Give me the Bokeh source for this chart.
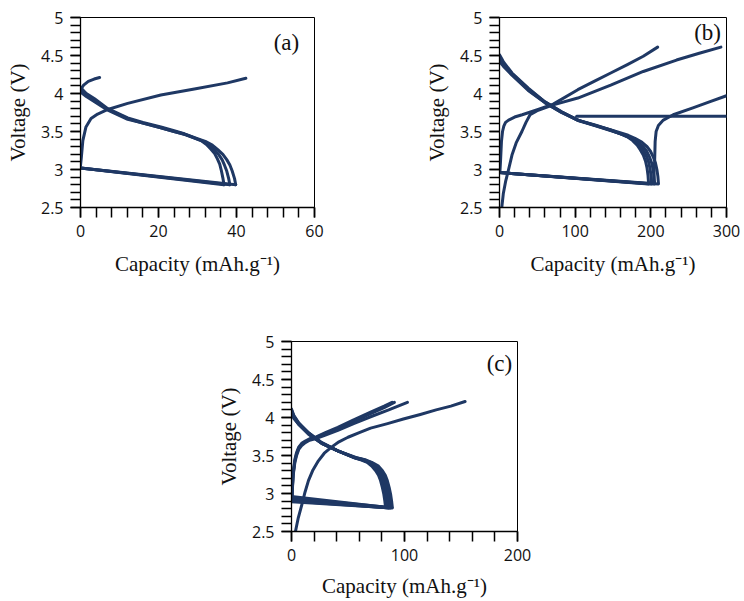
from bokeh.plotting import figure
from bokeh.layouts import column, row
from bokeh.models import Spacer, SingleIntervalTicker, Label, Range1d, CustomJSTickFormatter
from bokeh.embed import file_html
from bokeh.resources import INLINE

# ---------------- data: panel (a) ----------------
a_ch1_x = [0, 0.2, 0.6, 1.4, 2.7, 4.4, 7.0, 12.1, 20.6, 29.2, 37.7, 42.4]
a_ch1_v = [3.05, 3.15, 3.38, 3.56, 3.67, 3.73, 3.79, 3.87, 3.98, 4.06, 4.14, 4.20]
a_ch2_x = [0, 0.8, 2.0, 3.5, 4.9]
a_ch2_v = [4.05, 4.11, 4.16, 4.19, 4.21]
a_d1_x = [0, 1.5, 3.6, 7.0, 12.1, 16.0, 20.6, 24.0, 26.6, 29.0, 30.9, 32.3, 33.4, 34.4, 35.1, 35.7, 36.1, 36.5, 36.8]
a_d1_v = [4.08, 4.00, 3.93, 3.80, 3.68, 3.62, 3.56, 3.51, 3.47, 3.42, 3.38, 3.33, 3.27, 3.21, 3.14, 3.07, 2.99, 2.89, 2.80]
a_d2_x = [0, 1.5, 3.6, 7.0, 12.1, 16.0, 20.6, 24.0, 26.8, 29.4, 31.5, 33.1, 34.3, 35.4, 36.3, 36.9, 37.5, 38.0, 38.3]
a_d2_v = [4.05, 3.98, 3.91, 3.79, 3.67, 3.61, 3.55, 3.50, 3.46, 3.41, 3.37, 3.32, 3.26, 3.20, 3.13, 3.06, 2.98, 2.88, 2.80]
a_d3_x = [0, 1.5, 3.6, 7.0, 12.1, 16.0, 20.6, 24.0, 27.0, 29.8, 32.0, 33.8, 35.2, 36.5, 37.5, 38.3, 38.9, 39.5, 39.8]
a_d3_v = [4.02, 3.96, 3.89, 3.78, 3.66, 3.61, 3.55, 3.50, 3.46, 3.41, 3.37, 3.32, 3.26, 3.20, 3.13, 3.06, 2.98, 2.88, 2.80]
a_rest_start_v = [3.02, 3.02, 3.02]
a_rest_end_x = [36.8, 38.3, 39.8]
a_rest_end_v = [2.80, 2.80, 2.80]

# ---------------- data: panel (b) ----------------
b_d1_x = [0, 5, 16.5, 38, 60, 82, 103, 125, 147, 160, 169, 176, 182, 186, 190, 193, 195, 196.3, 197]
b_d1_v = [4.51, 4.42, 4.27, 4.07, 3.89, 3.76, 3.65, 3.59, 3.52, 3.47, 3.43, 3.38, 3.32, 3.26, 3.19, 3.11, 3.02, 2.92, 2.82]
b_d2_x = [0, 5, 16.5, 38, 60, 82, 104, 126, 149, 163, 172, 180, 186, 190, 194, 197, 199, 200.3, 201]
b_d2_v = [4.48, 4.40, 4.26, 4.06, 3.89, 3.76, 3.65, 3.58, 3.51, 3.46, 3.42, 3.37, 3.31, 3.25, 3.18, 3.10, 3.01, 2.91, 2.82]
b_d3_x = [0, 5, 16.5, 38, 60, 82, 105, 128, 151, 166, 175, 183, 190, 194.5, 198, 201, 203, 204.3, 205]
b_d3_v = [4.45, 4.38, 4.25, 4.05, 3.88, 3.75, 3.64, 3.57, 3.50, 3.45, 3.41, 3.36, 3.30, 3.24, 3.17, 3.09, 3.00, 2.91, 2.82]
b_d4_x = [0, 5, 16.5, 38, 60, 82, 106, 130, 154, 170, 179, 188, 195, 199.5, 203, 206, 208, 209.3, 210]
b_d4_v = [4.42, 4.36, 4.24, 4.04, 3.88, 3.75, 3.64, 3.57, 3.50, 3.45, 3.41, 3.36, 3.30, 3.24, 3.17, 3.09, 3.00, 2.91, 2.82]
b_flat_x = [102, 300]
b_flat_v = [3.70, 3.70]
b_chA_x = [0.5, 1.3, 2.6, 4, 5.7, 8, 12, 20, 30, 51, 71, 103.5, 125, 147, 169, 190, 209]
b_chA_v = [2.96, 3.10, 3.37, 3.50, 3.57, 3.62, 3.65, 3.69, 3.72, 3.79, 3.86, 4.05, 4.16, 4.27, 4.38, 4.49, 4.61]
b_chB_x = [3, 5, 8, 12, 16.5, 22, 29.6, 35, 40.4, 51, 71, 103.5, 147, 190, 234, 264, 292.6]
b_chB_v = [2.50, 2.68, 2.84, 3.00, 3.19, 3.35, 3.50, 3.62, 3.72, 3.78, 3.85, 3.94, 4.11, 4.29, 4.44, 4.53, 4.61]
b_chC_x = [203.5, 205, 205.7, 207, 210, 216.5, 229.6, 255.6, 277.4, 300]
b_chC_v = [2.82, 3.10, 3.37, 3.50, 3.58, 3.65, 3.72, 3.81, 3.89, 3.97]
b_rest_start_v = [2.96, 2.96, 2.96, 2.96]
b_rest_end_x = [197, 201, 205, 210]
b_rest_end_v = [2.81, 2.81, 2.81, 2.81]

# ---------------- data: panel (c) ----------------
c_d1_x = [0, 2, 6.4, 15, 26.7, 41, 55.7, 62, 67, 71, 74.5, 77, 78.8, 80.4, 81.7, 82.6, 83.2]
c_d1_v = [4.11, 4.03, 3.93, 3.80, 3.67, 3.56, 3.47, 3.44, 3.41, 3.36, 3.30, 3.24, 3.17, 3.08, 2.99, 2.90, 2.82]
c_d2_x = [0, 2, 6.4, 15, 26.7, 41, 56, 63, 68, 72.5, 76, 78.5, 80.3, 81.9, 83.2, 84.1, 84.7]
c_d2_v = [4.10, 4.02, 3.92, 3.80, 3.67, 3.56, 3.47, 3.44, 3.41, 3.36, 3.30, 3.24, 3.17, 3.08, 2.99, 2.90, 2.82]
c_d3_x = [0, 2, 6.4, 15, 26.7, 41, 56.5, 64, 69, 74, 77.5, 80, 81.8, 83.4, 84.7, 85.6, 86.2]
c_d3_v = [4.09, 4.01, 3.92, 3.79, 3.66, 3.56, 3.47, 3.44, 3.41, 3.36, 3.30, 3.24, 3.17, 3.08, 2.99, 2.90, 2.82]
c_d4_x = [0, 2, 6.4, 15, 26.7, 41, 57, 65, 70, 75.5, 79, 81.5, 83.3, 84.9, 86.2, 87.1, 87.7]
c_d4_v = [4.08, 4.00, 3.91, 3.79, 3.66, 3.56, 3.47, 3.44, 3.41, 3.36, 3.30, 3.24, 3.17, 3.08, 2.99, 2.90, 2.82]
c_d5_x = [0, 2, 6.4, 15, 26.7, 41, 57.5, 66, 71, 77, 80.5, 83, 84.8, 86.4, 87.7, 88.6, 89.2]
c_d5_v = [4.07, 3.99, 3.91, 3.78, 3.66, 3.56, 3.47, 3.44, 3.41, 3.36, 3.30, 3.24, 3.17, 3.08, 2.99, 2.90, 2.82]
c_rest_start_v = [2.96, 2.94, 2.92, 2.90, 2.89]
c_rest_end_x = [83.2, 84.7, 86.2, 87.7, 89.2]
c_rest_end_v = [2.82, 2.82, 2.81, 2.81, 2.81]
c_c1_x = [0.3, 0.8, 1.5, 3, 4.5, 6.4, 9, 12.2, 16, 20.9, 30, 41, 55, 70, 82, 89]
c_c1_v = [2.90, 3.10, 3.28, 3.45, 3.54, 3.61, 3.66, 3.69, 3.72, 3.74, 3.80, 3.87, 3.97, 4.07, 4.15, 4.20]
c_c2_x = [0.3, 0.8, 1.5, 3, 4.5, 6.4, 9, 12.2, 16, 20.9, 30, 41, 55, 70, 82, 91]
c_c2_v = [2.90, 3.08, 3.26, 3.43, 3.52, 3.60, 3.65, 3.68, 3.71, 3.73, 3.79, 3.85, 3.95, 4.05, 4.13, 4.20]
c_c3_x = [0.3, 0.8, 1.5, 3, 4.5, 6.4, 9, 12.2, 16, 20.9, 30, 41, 55, 70, 86, 102.6]
c_c3_v = [2.90, 3.06, 3.24, 3.41, 3.50, 3.58, 3.63, 3.67, 3.70, 3.72, 3.77, 3.83, 3.92, 4.01, 4.10, 4.20]
c_long_x = [3.5, 6, 9.3, 12, 15, 19, 23.8, 29, 35.4, 42, 50, 60, 70, 85, 99, 114, 128, 141, 153.6]
c_long_v = [2.50, 2.68, 2.86, 3.02, 3.17, 3.31, 3.43, 3.53, 3.61, 3.68, 3.74, 3.80, 3.86, 3.92, 3.98, 4.04, 4.10, 4.15, 4.21]

x_title = "Capacity (mAh.g\u207b\u00b9)"
y_title = "Voltage (V)"
LINE = "#1F3864"
LW = 3.0


def make_panel(xmax, xstep, w, h, bl, br, bt, bb, tag, tag_x, tag_y, xstand=12):
    p = figure(width=w, height=h, output_backend="svg", toolbar_location=None,
               x_range=Range1d(0, xmax), y_range=Range1d(2.5, 5),
               min_border_left=bl, min_border_right=br, min_border_top=bt, min_border_bottom=bb)
    p.grid.visible = False
    p.outline_line_color = "black"
    p.outline_line_width = 1
    p.background_fill_color = "white"
    p.border_fill_color = "white"
    p.xaxis.ticker = SingleIntervalTicker(interval=xstep, num_minor_ticks=5)
    p.yaxis.ticker = SingleIntervalTicker(interval=0.5, num_minor_ticks=5)
    p.yaxis.formatter = CustomJSTickFormatter(code="return String(Math.round(tick*10)/10);")
    for ax in (p.xaxis[0], p.yaxis[0]):
        ax.axis_line_color = "#000000"
        ax.axis_line_width = 1.3
        ax.major_tick_line_color = "#000000"
        ax.minor_tick_line_color = "#000000"
        ax.major_tick_line_width = 1.5
        ax.minor_tick_line_width = 1.5
        ax.major_tick_out = 10
        ax.major_tick_in = 0
        ax.minor_tick_out = 10
        ax.minor_tick_in = 0
        ax.major_label_text_font = "Open Sans"
        ax.major_label_text_font_size = "16px"
        ax.major_label_text_color = "#111111"
        ax.axis_label_text_font = "Liberation Serif"
        ax.axis_label_text_font_size = "21px"
        ax.axis_label_text_font_style = "normal"
        ax.axis_label_text_color = "#111111"
    p.xaxis.axis_label = x_title
    p.yaxis.axis_label = y_title
    p.xaxis.major_label_standoff = 7
    p.yaxis.major_label_standoff = 7
    p.xaxis.axis_label_standoff = xstand
    p.yaxis.axis_label_standoff = 8
    p.add_layout(Label(x=tag_x, y=tag_y, text=tag, text_font="Liberation Serif",
                       text_font_size="23px", text_align="center", text_baseline="middle",
                       text_color="#111111"))
    return p


def draw(p, xs, vs):
    p.line(xs, vs, line_color=LINE, line_width=LW, line_join="round", line_cap="round")


pa = make_panel(60, 20, 421, 279, 80, 107, 17, 72, "(a)", 52.8, 4.67)
for xs, vs in [(a_ch1_x, a_ch1_v), (a_ch2_x, a_ch2_v), (a_d1_x, a_d1_v),
               (a_d2_x, a_d2_v), (a_d3_x, a_d3_v)]:
    draw(pa, xs, vs)
for sv, ex, ev in zip(a_rest_start_v, a_rest_end_x, a_rest_end_v):
    draw(pa, [0, ex], [sv, ev])

pb = make_panel(300, 100, 319, 279, 75, 14, 17, 72, "(b)", 275, 4.80)
for xs, vs in [(b_d1_x, b_d1_v), (b_d2_x, b_d2_v), (b_d3_x, b_d3_v), (b_d4_x, b_d4_v),
               (b_flat_x, b_flat_v), (b_chA_x, b_chA_v), (b_chB_x, b_chB_v), (b_chC_x, b_chC_v)]:
    draw(pb, xs, vs)
for sv, ex, ev in zip(b_rest_start_v, b_rest_end_x, b_rest_end_v):
    draw(pb, [0, ex], [sv, ev])

pc = make_panel(200, 100, 318, 323, 75, 14, 62, 71, "(c)", 184, 4.71, xstand=10)
for xs, vs in [(c_d1_x, c_d1_v), (c_d2_x, c_d2_v), (c_d3_x, c_d3_v), (c_d4_x, c_d4_v),
               (c_d5_x, c_d5_v), (c_c1_x, c_c1_v), (c_c2_x, c_c2_v), (c_c3_x, c_c3_v),
               (c_long_x, c_long_v)]:
    draw(pc, xs, vs)
for sv, ex, ev in zip(c_rest_start_v, c_rest_end_x, c_rest_end_v):
    draw(pc, [0, ex], [sv, ev])

layout = column(row(pa, pb), row(Spacer(width=213, height=323), pc))
open("out.html", "w").write(file_html(layout, INLINE))
